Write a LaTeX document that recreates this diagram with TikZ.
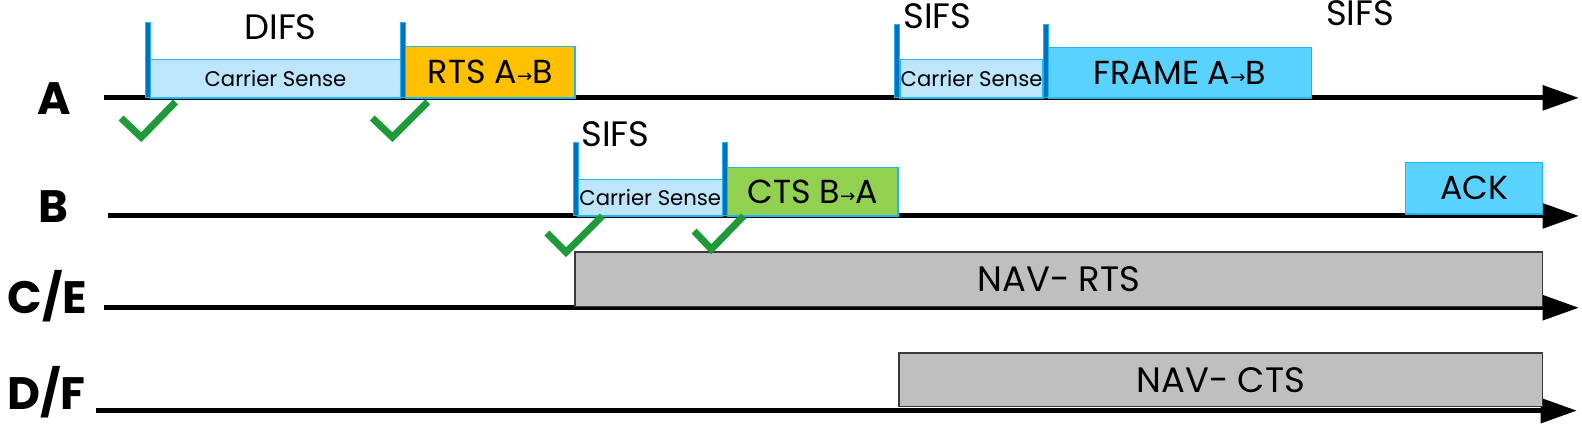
\documentclass[tikz,border=0pt]{standalone}
\usepackage{fontspec}
\setmainfont{Poppins}
\newfontfamily\arrowfont{DejaVu Sans}
\usetikzlibrary{arrows.meta,fit}
\definecolor{barblue}{HTML}{0070C0}
\definecolor{cyanborder}{HTML}{1FB5F0}
\definecolor{csfill}{HTML}{BDE5FC}
\definecolor{rtsfill}{HTML}{FFC000}
\definecolor{ctsfill}{HTML}{92D050}
\definecolor{framefill}{HTML}{5AD2FF}
\definecolor{navfill}{HTML}{BFBFBF}
\definecolor{navdraw}{HTML}{3A3A3A}
\definecolor{checkgreen}{HTML}{1F9A3A}
\newcommand{\rarr}{{\arrowfont\fontsize{18}{18}\selectfont\raisebox{1pt}{→}}}
\tikzset{
  axisline/.style={line width=5pt, -{Triangle[length=36pt,width=24pt]}},
  lbl/.style={font=\fontsize{45}{45}\selectfont\bfseries, inner sep=0pt},
  ifs/.style={font=\fontsize{35}{35}\selectfont, inner sep=0pt},
  bar/.style={draw=cyanborder, fill=barblue, line width=1pt, inner sep=0pt},
  csbox/.style={draw=cyanborder, fill=csfill, line width=1.5pt, inner sep=0pt},
  cstext/.style={font=\fontsize{21}{21}\selectfont},
  pkt/.style={draw=cyanborder, line width=1.5pt, inner sep=0pt},
  pkttext/.style={font=\fontsize{33}{33}\selectfont},
  navbox/.style={draw=navdraw, fill=navfill, line width=1.5pt, inner sep=0pt},
  navtext/.style={font=\fontsize{35}{35}\selectfont},
  check/.style={draw=checkgreen, line width=7pt}
}
\begin{document}
\begin{tikzpicture}[x=1pt,y=-1pt]
\useasboundingbox (0,0) rectangle (1568,420);
% axis endpoints
\coordinate (a0) at (103,97);  \coordinate (a1) at (1565,97);
\coordinate (b0) at (107,214); \coordinate (b1) at (1565,214);
\coordinate (c0) at (103,305); \coordinate (c1) at (1565,305);
\coordinate (d0) at (95,407);  \coordinate (d1) at (1563,407);
\draw[axisline] (a0) -- (a1);
\draw[axisline] (b0) -- (b1);
\draw[axisline] (c0) -- (c1);
\draw[axisline] (d0) -- (d1);
% labels
\node[lbl] (la) at (54,98) {A};
\node[lbl] (lb) at (53,205) {B};
\node[lbl] (lc) at (47,294) {C/E};
\node[lbl] (ld) at (46,389) {D/F};
% station A, first exchange
\node[csbox, fit={(149,59) (397,97)}] (cs1) {};
\node[cstext] (cs1t) at (cs1.center) {Carrier Sense};
\node[bar, fit={(144,22) (149,97)}] (bar1) {};
\node[pkt, fill=rtsfill, fit={(402,46) (570,97)}] (rts) {};
\node[pkttext] (rtst) at (rts.center) {RTS A\rarr B};
\node[bar, fit={(397,22) (402,97)}] (bar2) {};
\node[ifs] (difs) at (278,27) {DIFS};
% station B
\node[csbox, fit={(573,178) (716,214)}] (cs2) {};
\node[cstext] (cs2t) at (cs2.center) {Carrier Sense};
\node[bar, fit={(568,141) (573,214)}] (bar3) {};
\node[pkt, fill=ctsfill, fit={(721,166) (890,214)}] (cts) {};
\node[pkttext] (ctst) at (cts.center) {CTS B\rarr A};
\node[bar, fit={(716,141) (721,214)}] (bar4) {};
\node[ifs] (sifs1) at (610,133) {SIFS};
% station A, data
\node[csbox, fit={(892,59) (1034,97)}] (cs3) {};
\node[cstext] (cs3t) at (cs3.center) {Carrier Sense};
\node[bar, fit={(887,24) (892,97)}] (bar5) {};
\node[pkt, fill=framefill, fit={(1039,47) (1300,97)}] (frame) {};
\node[pkttext] (framet) at (frame.center) {FRAME A\rarr B};
\node[bar, fit={(1034,24) (1039,97)}] (bar6) {};
\node[ifs] (sifs2) at (929,16) {SIFS};
\node[ifs] (sifs3) at (1348,13) {SIFS};
% ACK
\node[pkt, fill=framefill, fit={(1393,161) (1529,212)}] (ack) {};
\node[pkttext] (ackt) at (ack.center) {ACK};
% NAV
\node[navbox, fit={(570,250) (1529,304)}] (navrts) {};
\node[navtext] (navrtst) at (navrts.center) {NAV- RTS};
\node[navbox, fit={(891,350) (1529,403)}] (navcts) {};
\node[navtext] (navctst) at (navcts.center) {NAV- CTS};
% checks
\draw[check] (120,117) -- (140,136) -- (174,101);
\draw[check] (369,117) -- (389,136) -- (424,101);
\draw[check] (542,231) -- (561,250) -- (597,214);
\draw[check] (688,229) -- (705,247) -- (737,214);
\end{tikzpicture}
\end{document}
